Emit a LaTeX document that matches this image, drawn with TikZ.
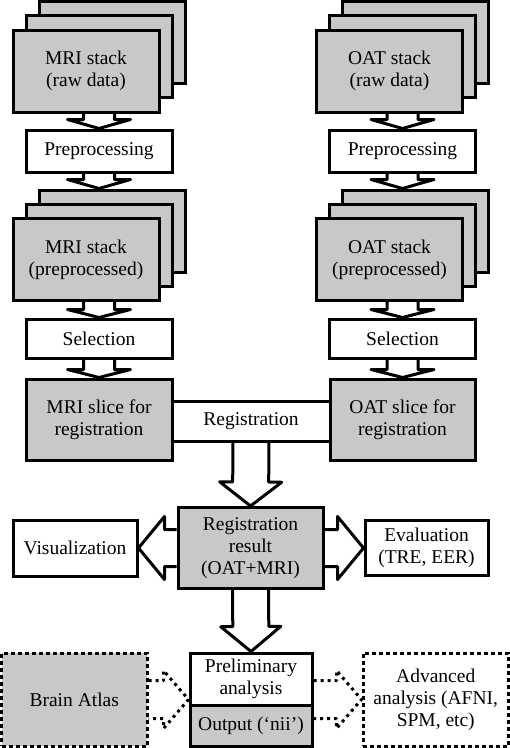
\documentclass[tikz,border=0pt]{standalone}
\usepackage{fontspec}
\setmainfont{Liberation Serif}
\usetikzlibrary{calc}
\definecolor{sheetgray}{RGB}{200,200,200}
% block arrow: [style] start, tip, shaft half width, head half width, head length
\newcommand{\blockarrow}[6][]{%
  \coordinate (ba-h) at ($(#3)!#6!(#2)$);
  \draw[arrowline,#1] ($(#2)!#4!90:(#3)$) -- ($(ba-h)!#4!90:(#3)$) -- ($(ba-h)!#5!90:(#3)$) -- (#3)
    -- ($(ba-h)!#5!-90:(#3)$) -- ($(ba-h)!#4!-90:(#3)$) -- ($(#2)!#4!-90:(#3)$);
}
\begin{document}
\begin{tikzpicture}[x=1pt,y=-1pt,
    box/.style={draw,line width=3pt,fill=white,inner sep=0pt,align=center,
      font=\fontsize{19.5}{22}\selectfont},
    sheet/.style={box,fill=sheetgray,minimum width=146pt,minimum height=82pt},
    dashbox/.style={box,dash pattern=on 4pt off 3pt},
    arrowline/.style={line width=3pt,line join=round}]
  \useasboundingbox (0,0) rectangle (510,748);
  \node[sheet] (mri1c) at (112,42.5){};
  \node[sheet] (mri1b) at (99,56.5){};
  \node[sheet] (mri1) at (86,71){MRI stack\\(raw data)};
  \node[sheet] (oat1c) at (415.5,42.5){};
  \node[sheet] (oat1b) at (402.5,56.5){};
  \node[sheet] (oat1) at (389.5,71){OAT stack\\(raw data)};
  \node[box,minimum width=146pt,minimum height=42pt] (prepl) at (99,151){Preprocessing};
  \node[box,minimum width=146pt,minimum height=42pt] (prepr) at (402.5,151){Preprocessing};
  \node[sheet] (mri2c) at (112,231){};
  \node[sheet] (mri2b) at (99,245){};
  \node[sheet] (mri2) at (86,259.5){MRI stack\\(preprocessed)};
  \node[sheet] (oat2c) at (415.5,231){};
  \node[sheet] (oat2b) at (402.5,245){};
  \node[sheet] (oat2) at (389.5,259.5){OAT stack\\(preprocessed)};
  \node[box,minimum width=146pt,minimum height=39pt] (sell) at (99,338.5){Selection};
  \node[box,minimum width=146pt,minimum height=39pt] (selr) at (402.5,338.5){Selection};
  \node[box,minimum width=158pt,minimum height=40pt] (reg) at (251,421){Registration};
  \node[sheet,minimum width=146pt,minimum height=81pt] (slicel) at (99,419.5){MRI slice for\\registration};
  \node[sheet,minimum width=145pt,minimum height=81pt] (slicer) at (402.5,419.5){OAT slice for\\registration};
  \node[sheet,minimum width=145pt,minimum height=81pt] (res) at (250.5,548){Registration\\result\\(OAT+MRI)};
  \node[box,minimum width=124pt,minimum height=56pt] (vis) at (75,548){Visualization};
  \node[box,minimum width=123pt,minimum height=55pt] (eval) at (426.5,548){Evaluation\\(TRE, EER)};
  \node[box,minimum width=122pt,minimum height=52pt] (prelim) at (251,679){Preliminary\\analysis};
  \node[box,fill=sheetgray,minimum width=122pt,minimum height=41pt] (out) at (251,725.5){Output (‘nii’)};
  \node[dashbox,fill=sheetgray,minimum width=145.5pt,minimum height=93pt] (atlas) at (74.25,699.5){Brain Atlas};
  \node[dashbox,minimum width=145.5pt,minimum height=93pt] (adv) at (435.75,699.5){Advanced\\analysis (AFNI,\\SPM, etc)};
  \coordinate (a1) at (mri1.south -| prepl.north);
  \coordinate (a2) at (prepl.south |- mri2c.north);
  \coordinate (a3) at (mri2.south -| sell.north);
  \coordinate (b1) at (oat1.south -| prepr.north);
  \coordinate (b2) at (prepr.south |- oat2c.north);
  \coordinate (b3) at (oat2.south -| selr.north);
  \coordinate (c1) at (atlas.east -| prelim.west);
  \coordinate (c2) at (atlas.east -| prelim.east);
  \blockarrow{a1}{prepl.north}{15.5pt}{31.5pt}{9pt}
  \blockarrow{prepl.south}{a2}{15.5pt}{31.5pt}{9pt}
  \blockarrow{a3}{sell.north}{15.5pt}{31.5pt}{8pt}
  \blockarrow{sell.south}{slicel.north}{15.5pt}{31.5pt}{8pt}
  \blockarrow{b1}{prepr.north}{15.5pt}{31.5pt}{9pt}
  \blockarrow{prepr.south}{b2}{15.5pt}{31.5pt}{9pt}
  \blockarrow{b3}{selr.north}{15.5pt}{31.5pt}{8pt}
  \blockarrow{selr.south}{slicer.north}{15.5pt}{31.5pt}{8pt}
  \blockarrow{reg.south}{res.north}{18pt}{31pt}{24pt}
  \blockarrow{res.west}{vis.east}{18.5pt}{31.5pt}{26pt}
  \blockarrow{res.east}{eval.west}{18.5pt}{31.5pt}{26pt}
  \blockarrow{res.south}{prelim.north}{18pt}{30pt}{25pt}
  \blockarrow[dash pattern=on 3pt off 4pt]{atlas.east}{c1}{19pt}{29pt}{25pt}
  \blockarrow[dash pattern=on 3pt off 4pt]{c2}{adv.west}{19pt}{29pt}{25pt}
\end{tikzpicture}
\end{document}
